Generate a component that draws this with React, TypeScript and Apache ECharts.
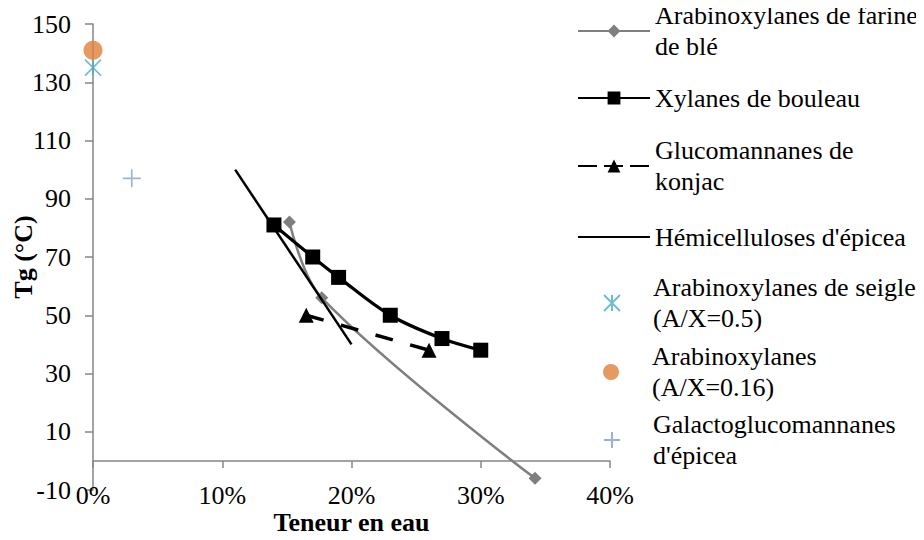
import React, { useEffect, useRef } from "react";
import * as echarts from "echarts";

// Water content (%) and Tg (°C)
const wheatX = [15.2, 17.7, 34.2];
const wheatY = [82, 56, -6];
const birchX = [14, 17, 19, 23, 27, 30];
const birchY = [81, 70, 63, 50, 42, 38];
const konjacX = [16.5, 26];
const konjacY = [50, 38];
const spruceHemiX = [11, 20];
const spruceHemiY = [100, 40];
const ryeX = [0];
const ryeY = [135];
const araX = [0];
const araY = [141];
const ggmX = [3];
const ggmY = [97];

const seriesNames = [
  "Arabinoxylanes de farine de blé",
  "Xylanes de bouleau",
  "Glucomannanes de konjac",
  "Hémicelluloses d'épicea",
  "Arabinoxylanes de seigle (A/X=0.5)",
  "Arabinoxylanes (A/X=0.16)",
  "Galactoglucomannanes d'épicea",
];
const legendLines = [
  ["Arabinoxylanes de farine", "de blé"],
  ["Xylanes de bouleau"],
  ["Glucomannanes de", "konjac"],
  ["Hémicelluloses d'épicea"],
  ["Arabinoxylanes de seigle", "(A/X=0.5)"],
  ["Arabinoxylanes", "(A/X=0.16)"],
  ["Galactoglucomannanes", "d'épicea"],
];
const xTicks = [0, 10, 20, 30, 40];

const zip = (xs: number[], ys: number[]) => xs.map((x, i) => [x, ys[i]]);

const FONT = "Liberation Serif";
const FS = 26;
const LH = 31;
const legendCenters = [31, 98, 166, 237, 303, 372, 440];

const asteriskPath = "path://M0,0 L10,10 M10,0 L0,10 M5,0 L5,10";
const plusPath = "path://M5,0 L5,10 M0,5 L10,5";

export default function App() {
  const ref = useRef<HTMLDivElement>(null);
  useEffect(() => {
    if (!ref.current) return;
    const chart = echarts.init(ref.current, undefined, { renderer: "svg" });
    const legends = seriesNames.map((name, i) => {
      const two = legendLines[i].length > 1;
      const leg: any = {
        data: [name],
        left: i >= 4 ? 603 : 577,
        top: two ? legendCenters[i] - 46.5 : legendCenters[i] - 15.5,
        orient: "vertical",
        padding: 0,
        itemWidth: 72,
        itemHeight: 16,
        selectedMode: false,
        formatter: () => legendLines[i].join("\n"),
        textStyle: {
          fontFamily: FONT,
          fontSize: FS,
          lineHeight: LH,
          color: "#000",
          padding: two ? [LH, 0, 0, 0] : 0,
        },
      };
      if (i === 3) leg.itemStyle = { opacity: 0 };
      if (i === 2) leg.lineStyle = { type: [19, 7] };
      return leg;
    });
    chart.setOption({
      animation: false,
      backgroundColor: "#fff",
      textStyle: { fontFamily: FONT },
      grid: { left: 93, right: 314, top: 24, bottom: 50, containLabel: false, outerBoundsMode: "none" },
      legend: legends,
      xAxis: {
        type: "value",
        min: 0,
        max: 40,
        interval: 10,
        name: "Teneur en eau",
        nameLocation: "middle",
        nameGap: 21,
        nameMoveOverlap: false,
        nameTextStyle: { fontFamily: FONT, fontSize: FS, fontWeight: "bold", color: "#000", lineHeight: 22 },
        axisLine: { onZero: true, lineStyle: { color: "#868686", width: 1.5 } },
        axisTick: { show: true, length: 7, lineStyle: { color: "#868686", width: 1.5 } },
        axisLabel: {
          fontFamily: FONT,
          fontSize: FS,
          lineHeight: 24,
          color: "#000",
          margin: -7,
          formatter: (v: number) => (xTicks.includes(v) ? `${v}%` : ""),
        },
        splitLine: { show: false },
      },
      yAxis: {
        type: "value",
        min: -10,
        max: 150,
        interval: 20,
        name: "Tg (°C)",
        nameLocation: "middle",
        nameGap: 57,
        nameMoveOverlap: false,
        nameRotate: 90,
        nameTextStyle: { fontFamily: FONT, fontSize: FS, fontWeight: "bold", color: "#000" },
        axisLine: { show: true, onZero: false, lineStyle: { color: "#868686", width: 1.5 } },
        axisTick: { show: true, length: 8, lineStyle: { color: "#868686", width: 1.5 } },
        axisLabel: { fontFamily: FONT, fontSize: FS, color: "#000", margin: 22 },
        splitLine: { show: false },
      },
      series: [
        {
          name: seriesNames[0],
          type: "line",
          data: zip(wheatX, wheatY),
          smooth: 0.35,
          symbol: "diamond",
          symbolSize: 13,
          itemStyle: { color: "#7f7f7f" },
          lineStyle: { color: "#7f7f7f", width: 2.5 },
          z: 2,
        },
        {
          name: seriesNames[1],
          type: "line",
          data: zip(birchX, birchY),
          smooth: 0.35,
          symbol: "rect",
          symbolSize: 15,
          itemStyle: { color: "#000" },
          lineStyle: { color: "#000", width: 3.2 },
          z: 4,
        },
        {
          name: seriesNames[2],
          type: "line",
          data: zip(konjacX, konjacY),
          symbol: "triangle",
          symbolSize: 15,
          itemStyle: { color: "#000" },
          lineStyle: { color: "#000", width: 3.5, type: [18, 18] },
          z: 3,
        },
        {
          name: seriesNames[3],
          type: "line",
          data: zip(spruceHemiX, spruceHemiY),
          symbol: "none",
          itemStyle: { color: "#000" },
          lineStyle: { color: "#000", width: 2.5 },
          z: 5,
        },
        {
          name: seriesNames[4],
          type: "scatter",
          data: zip(ryeX, ryeY),
          symbol: asteriskPath,
          symbolSize: 16,
          itemStyle: { color: "rgba(0,0,0,0)", borderColor: "#4bacc6", borderWidth: 1.6 },
          z: 6,
        },
        {
          name: seriesNames[5],
          type: "scatter",
          data: zip(araX, araY),
          symbol: "circle",
          symbolSize: 19,
          itemStyle: { color: "#dd8139" },
          z: 7,
        },
        {
          name: seriesNames[6],
          type: "scatter",
          data: zip(ggmX, ggmY),
          symbol: plusPath,
          symbolSize: 18,
          itemStyle: { color: "rgba(0,0,0,0)", borderColor: "#7f9fcf", borderWidth: 1.6 },
          z: 6,
        },
      ],
    });
    return () => chart.dispose();
  }, []);
  return <div ref={ref} style={{ width: 924, height: 540, margin: -8 }} />;
}
